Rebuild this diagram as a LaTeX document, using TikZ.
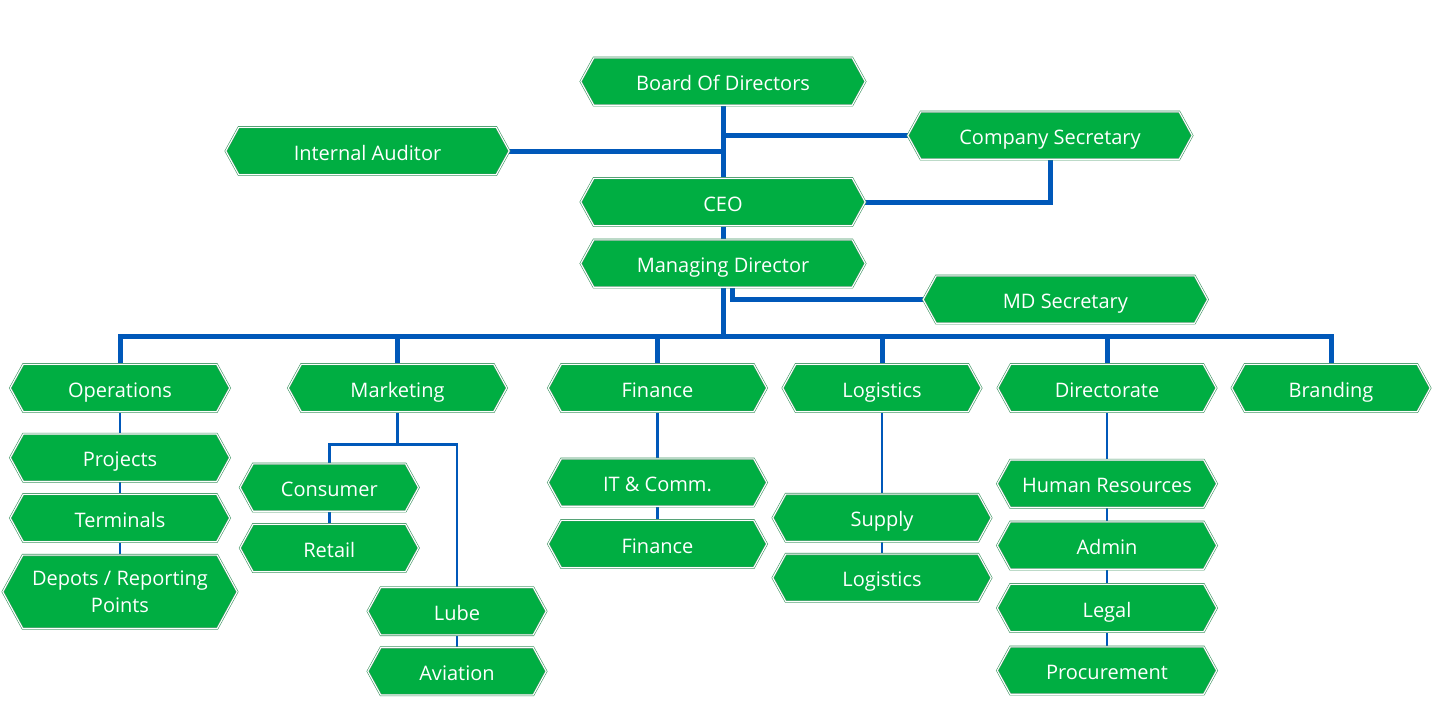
\documentclass[tikz,border=0pt]{standalone}
\usepackage{fontspec}
\setmainfont{Open Sans}
\usetikzlibrary{backgrounds,calc}
\definecolor{boxgreen}{RGB}{0,174,66}
\definecolor{rimgreen}{RGB}{64,150,100}
\definecolor{linkblue}{RGB}{0,88,185}
\begin{document}
\begin{tikzpicture}[x=1pt,y=-1pt,
  unit/.style={rectangle, inner sep=0pt, minimum height=47pt, minimum width=284pt,
    text height=19pt, text depth=1pt,
    text=white, align=center, font=\fontsize{20}{27}\selectfont},
  dept/.style={unit, minimum width=218pt},
  narrow/.style={unit, minimum width=198pt},
  small/.style={unit, minimum width=178pt},
  twoline/.style={dept, minimum width=234pt, minimum height=73pt,
    text height={}, text depth={}},
  mainlink/.style={draw=linkblue, line width=5pt},
  sublink/.style={draw=linkblue, line width=2.5pt},
  hexface/.style={fill=boxgreen, draw=rimgreen, line width=0.6pt,
    double=white, double distance=1.1pt}]
\useasboundingbox (0,0) rectangle (1433,715);

% top management
\node[unit] (bod) at (723,81.5) {Board Of Directors};
\node[unit, minimum width=283pt] (ia) at (367.5,151) {Internal Auditor};
\node[unit] (cs) at (1050,135.5) {Company Secretary};
\node[unit] (ceo) at (723,202) {CEO};
\node[unit] (md) at (723,263.5) {Managing Director};
\node[unit] (mds) at (1065.4,299.5) {MD Secretary};
\coordinate (bus) at (723,336.5);

% departments
\node[dept, minimum width=219pt] (ops) at (120,388) {Operations};
\node[dept] (mkt) at (397.5,388) {Marketing};
\node[dept] (fin) at (657.5,388) {Finance};
\node[narrow] (log) at (882,388) {Logistics};
\node[dept] (dir) at (1107,388) {Directorate};
\node[narrow] (brand) at (1331,388) {Branding};

% operations units
\node[dept, minimum width=219pt] (proj) at (120,457.7) {Projects};
\node[dept, minimum width=219pt] (term) at (120,518) {Terminals};
\node[twoline] (dep) at (120,591.8) {Depots / Reporting\\Points};

% marketing units
\node[small] (cons) at (329.3,487.5) {Consumer};
\node[small] (ret) at (329.3,548) {Retail};
\node[small] (lube) at (457,611.2) {Lube};
\node[small] (avi) at (457,671.3) {Aviation};
\coordinate (mktsplit) at (397.5,444.3);

% finance units
\node[dept] (it) at (657.5,482.5) {IT \& Comm.};
\node[dept] (fin2) at (657.5,544) {Finance};

% logistics units
\node[dept] (sup) at (882,517.8) {Supply};
\node[dept] (log2) at (882,577.8) {Logistics};

% directorate units
\node[dept, minimum width=219pt] (hr) at (1107,483.7) {Human Resources};
\node[dept, minimum width=219pt] (adm) at (1107,545.5) {Admin};
\node[dept, minimum width=219pt] (leg) at (1107,608) {Legal};
\node[dept, minimum width=219pt] (proc) at (1107,670.5) {Procurement};

\begin{scope}[on background layer]
  % reporting lines
  \draw[mainlink] (bod.south) -- (ceo.north);
  \draw[mainlink] (ia.east) -- (ia.east -| bod.south);
  \draw[mainlink] (cs.west) -- (cs.west -| bod.south);
  \draw[mainlink] (ceo.east) -| (cs.south);
  \draw[mainlink] (ceo.south) -- (md.north);
  \draw[mainlink] (md.south) -- (md.south |- bus);
  \draw[mainlink] ([xshift=9pt]md.south) |- (mds.west);
  \draw[mainlink] (ops.north) |- (bus) -| (brand.north);
  \foreach \d in {mkt,fin,log,dir}
    \draw[mainlink] (\d.north) -- (\d.north |- bus);

  \draw[sublink] (ops.south) -- (proj.north);
  \draw[sublink] (proj.south) -- (term.north);
  \draw[sublink] (term.south) -- (dep.north);
  \draw[sublink] (mkt.south) -- (mkt.south |- mktsplit);
  \draw[sublink] (cons.north) |- (lube.north |- mktsplit) -- (lube.north);
  \draw[sublink] (cons.south) -- (ret.north);
  \draw[sublink] (lube.south) -- (avi.north);
  \draw[sublink] (fin.south) -- (it.north);
  \draw[sublink] (it.south) -- (fin2.north);
  \draw[sublink] (log.south) -- (sup.north);
  \draw[sublink] (sup.south) -- (log2.north);
  \draw[sublink] (dir.south) -- (hr.north);
  \draw[sublink] (hr.south) -- (adm.north);
  \draw[sublink] (adm.south) -- (leg.north);
  \draw[sublink] (leg.south) -- (proc.north);

  % hexagonal boxes behind the labels
  \foreach \n/\d in {bod/13,ia/13,cs/13,ceo/13,md/13,mds/13,
      ops/13,mkt/13,fin/13,log/13,dir/13,brand/13,
      proj/13,term/13,dep/20,cons/13,ret/13,lube/13,avi/13,
      it/13,fin2/13,sup/13,log2/13,hr/13,adm/13,leg/13,proc/13}
    \draw[hexface] (\n.west) -- ([xshift=\d pt]\n.north west)
      -- ([xshift=-\d pt]\n.north east) -- (\n.east)
      -- ([xshift=-\d pt]\n.south east) -- ([xshift=\d pt]\n.south west) -- cycle;
\end{scope}
\end{tikzpicture}
\end{document}
